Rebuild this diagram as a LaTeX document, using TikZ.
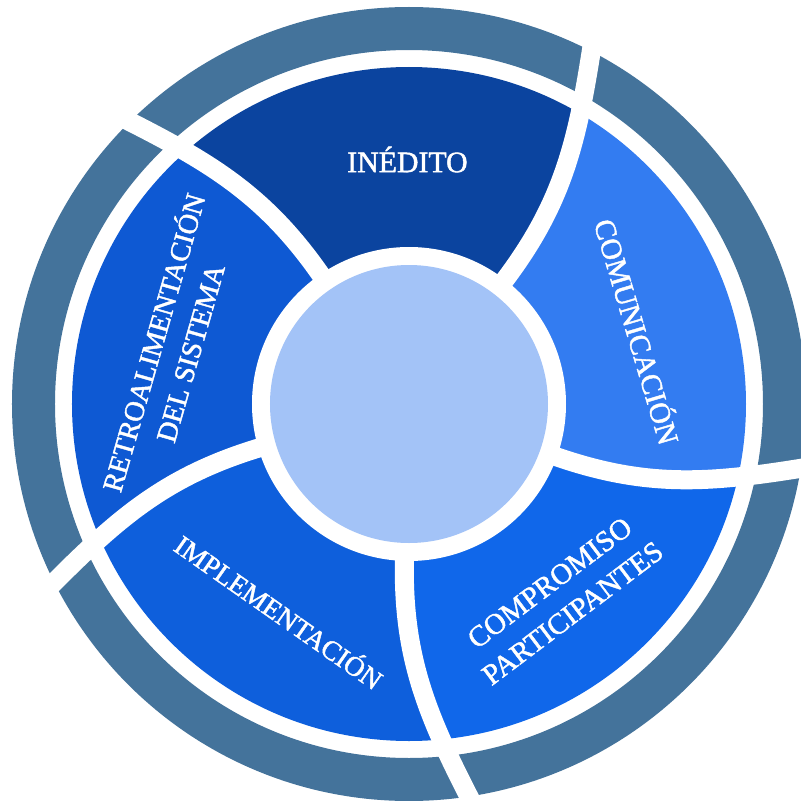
\documentclass[tikz,border=0pt]{standalone}
\usepackage{fontspec}
\usepackage{xcolor}
\usepackage{tikz}
\newfontfamily\segfont{Liberation Serif}[FakeBold=1.5]
\definecolor{inedcol}{RGB}{11,68,159}
\definecolor{comucol}{RGB}{51,124,241}
\definecolor{compcol}{RGB}{16,103,234}
\definecolor{implcol}{RGB}{14,95,220}
\definecolor{retrocol}{RGB}{14,89,211}
\definecolor{centcol}{RGB}{163,195,247}
\definecolor{ringcol}{RGB}{68,115,155}
\tikzset{
  seglabel/.style 2 args={text=white, inner sep=0pt, align=center, anchor=center,
    font=\segfont\fontsize{#1}{#2}\selectfont},
  cut/.style={draw=white, line width=19pt}
}

\begin{document}
\begin{tikzpicture}[x=1pt,y=1pt]
\useasboundingbox (-409,-397) rectangle (392,404);
\clip (-409,-397) rectangle (392,404);

\begin{scope}
\clip (0,0) circle[radius=337];
\fill[comucol] (0,0) -- (340.3:150) to[out=340.3,in=189.3] (351.1:406)
  arc[start angle=351.1,end angle=423.1,radius=406] to[out=261.3,in=52.3] (52.3:150) -- cycle;
\fill[inedcol] (0,0) -- (52.3:150) to[out=52.3,in=261.3] (63.1:406)
  arc[start angle=63.1,end angle=135.1,radius=406] to[out=333.3,in=124.3] (124.3:150) -- cycle;
\fill[retrocol] (0,0) -- (124.3:150) to[out=124.3,in=333.3] (135.1:406)
  arc[start angle=135.1,end angle=207.1,radius=406] to[out=45.3,in=196.3] (196.3:150) -- cycle;
\fill[implcol] (0,0) -- (196.3:150) to[out=196.3,in=45.3] (207.1:406)
  arc[start angle=207.1,end angle=279.1,radius=406] to[out=117.3,in=268.3] (268.3:150) -- cycle;
\fill[compcol] (0,0) -- (268.3:150) to[out=268.3,in=117.3] (279.1:406)
  arc[start angle=279.1,end angle=351.1,radius=406] to[out=189.3,in=340.3] (340.3:150) -- cycle;
\end{scope}

\fill[ringcol, even odd rule] (0,0) circle[radius=397] (0,0) circle[radius=354];

\draw[cut] (52.3:150) to[out=52.3,in=261.3] (63.1:406);
\draw[cut] (124.3:150) to[out=124.3,in=333.3] (135.1:406);
\draw[cut] (196.3:150) to[out=196.3,in=45.3] (207.1:406);
\draw[cut] (268.3:150) to[out=268.3,in=117.3] (279.1:406);
\draw[cut] (340.3:150) to[out=340.3,in=189.3] (351.1:406);

\fill[white] (0,0) circle[radius=157];
\node (centre) at (0,0) [circle, fill=centcol, minimum size=278pt, inner sep=0pt] {};

\node (inedito) at (-1.5,241.5) [seglabel={29.8}{38}] {IN\smash{É}DITO};
\node (comunicacion) at (227,72) [seglabel={29.6}{38}, rotate=-73.5] {COMUNICACI\smash{Ó}N};
\node (compromiso) at (152.2,-194) [seglabel={29.3}{38}, rotate=37] {COMPROMISO\\PARTICIPANTES};
\node (implementacion) at (-130.8,-209) [seglabel={27.6}{38}, rotate=-35] {IMPLEMENTACI\smash{Ó}N};
\node (retro) at (-236.4,56) [seglabel={28.4}{38}, rotate=74] {RETROALIMENTACI\smash{Ó}N\\DEL SISTEMA};
\end{tikzpicture}
\end{document}
